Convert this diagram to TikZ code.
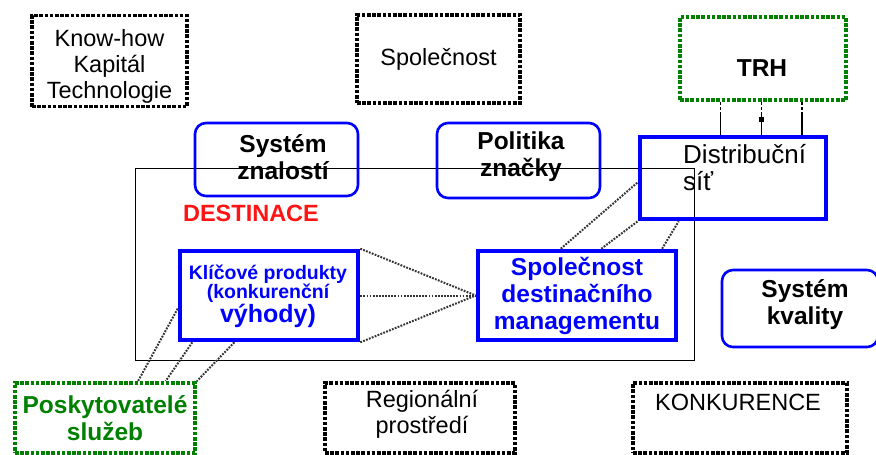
\documentclass[tikz,border=0pt]{standalone}
\usepackage{fontspec}
\setmainfont{Liberation Sans}
\usetikzlibrary{calc,positioning}
\definecolor{rgblue}{RGB}{0,0,255}
\definecolor{rggreen}{RGB}{0,128,0}
\definecolor{rgred}{RGB}{255,20,20}
\tikzset{
    dotbox/.style={draw=black, line width=3.8pt, dash pattern=on 3.6pt off 1.6pt, inner sep=0pt, align=center},
    greenbox/.style={dotbox, draw=rggreen},
    roundbox/.style={draw=rgblue, line width=2.6pt, rounded corners=11pt, inner sep=0pt, align=center},
    thickbox/.style={draw=rgblue, line width=4.6pt, inner sep=0pt, align=center},
    txt/.style={inner sep=0pt, align=center},
    tie/.style={draw=black!80, line width=2pt, dash pattern=on 1.8pt off 1.3pt},
    plain/.style={font=\fontsize{23.5}{26}\selectfont},
    heavy/.style={font=\fontsize{24.5}{27}\selectfont\bfseries}
}
\begin{document}
\begin{tikzpicture}[x=1pt,y=-1pt]
            \useasboundingbox (0,0) rectangle (876,455);
            \draw[line width=1pt] (135,168) rectangle (694,360);
            %%% outer boxes
            \node(know) at (109.5,61) [dotbox, minimum width=155pt, minimum height=91pt]{};
            \node(knowlbl) at (109.5,66) [txt, plain]{Know-how\\Kapitál\\Technologie};
            \node(spol) at (438.5,59) [dotbox, plain, minimum width=163pt, minimum height=88pt]{Společnost};
            \node(trh) at (763,58.5) [greenbox, minimum width=166pt, minimum height=83pt]{};
            \node(trhlbl) at (762,68) [txt, heavy]{TRH};
            \node(posk) at (105,418) [greenbox, heavy, text=rggreen, minimum width=180pt, minimum height=70pt]{Poskytovatelé\\služeb};
            \node(reg) at (420,418) [dotbox, minimum width=190pt, minimum height=70pt]{};
            \node(reglbl) at (422,414) [txt, plain]{Regionální\\prostředí};
            \node(konk) at (740,418) [dotbox, minimum width=214pt, minimum height=70pt]{};
            \node(konklbl) at (738,402) [txt, plain]{KONKURENCE};
            %%% blue boxes
            \node(znal) at (276.5,159.5) [roundbox, minimum width=163pt, minimum height=73pt]{};
            \node(znallbl) at (283,157) [txt, heavy]{Systém\\znalostí};
            \node(znac) at (518.5,160.5) [roundbox, minimum width=163pt, minimum height=75pt]{};
            \node(znaclbl) at (521,157) [txt, heavy]{Politika\\značky};
            \node(kval) at (800,308.5) [roundbox, minimum width=156pt, minimum height=77pt]{};
            \node(kvallbl) at (805,305) [txt, heavy]{Systém\\kvality};
            \node(dist) at (733,178) [thickbox, minimum width=186pt, minimum height=82pt]{};
            \node(distlbl) at (683,144) [txt, anchor=north west, align=left, font=\fontsize{26}{27}\selectfont]{Distribuční\\síť};
            \node(klic) at (269,295.5) [thickbox, text=rgblue, minimum width=178pt, minimum height=89pt]{};
            \node(kliclbl) at (268,296) [txt, text=rgblue]{\fontsize{19.5}{22}\selectfont\bfseries Klíčové produkty\\\fontsize{19.5}{22}\selectfont\bfseries (konkurenční\\\fontsize{25}{27}\selectfont\bfseries výhody)};
            \node(sdm) at (577,295.5) [thickbox, heavy, text=rgblue, minimum width=198pt, minimum height=89pt]{Společnost\\destinačního\\managementu};
            \node(dest) at (251,213) [txt, text=rgred, font=\fontsize{23.5}{26}\selectfont\bfseries]{DESTINACE};
            %%% ties
            \draw[tie] (klic.north east) -- (sdm.west);
            \draw[tie] (klic.east) -- (sdm.west);
            \draw[tie] (klic.south east) -- (sdm.west);
            %
            \draw[tie] ($(sdm.north west)!0.42!(sdm.north east)$) -- ($(dist.north west)!0.55!(dist.south west)$);
            \draw[tie] ($(sdm.north west)!0.62!(sdm.north east)$) -- (dist.south west);
            \draw[tie] ($(sdm.north west)!0.92!(sdm.north east)$) -- ($(dist.south west)!0.215!(dist.south east)$);
            %
            \draw[tie] ($(klic.north west)!0.64!(klic.south west)$) -- ($(posk.north west)!0.68!(posk.north east)$);
            \draw[tie] ($(klic.south west)!0.08!(klic.south east)$) -- ($(posk.north west)!0.83!(posk.north east)$);
            \draw[tie] ($(klic.south west)!0.31!(klic.south east)$) -- (posk.north east);
            %
            \coordinate(t1) at ($(trh.south west)!0.25!(trh.south east)$);
            \coordinate(t2) at ($(trh.south west)!0.49!(trh.south east)$);
            \coordinate(t3) at ($(trh.south west)!0.73!(trh.south east)$);
            \draw[line width=1.6pt, dash pattern=on 3pt off 2pt on 3pt off 2pt on 40pt] (t1) -- (t1 |- dist.north);
            \draw[line width=1.6pt, dash pattern=on 3pt off 2pt on 3pt off 2pt on 40pt] (t2) -- (t2 |- dist.north);
            \draw[line width=1.6pt, dash pattern=on 3pt off 2pt on 3pt off 2pt on 40pt] (t3) -- (t3 |- dist.north);
            \node(tsq) at ($(t2)!0.55!(t2 |- dist.north)$) [fill=black, inner sep=0pt, minimum size=5pt]{};
        \end{tikzpicture}
\end{document}
